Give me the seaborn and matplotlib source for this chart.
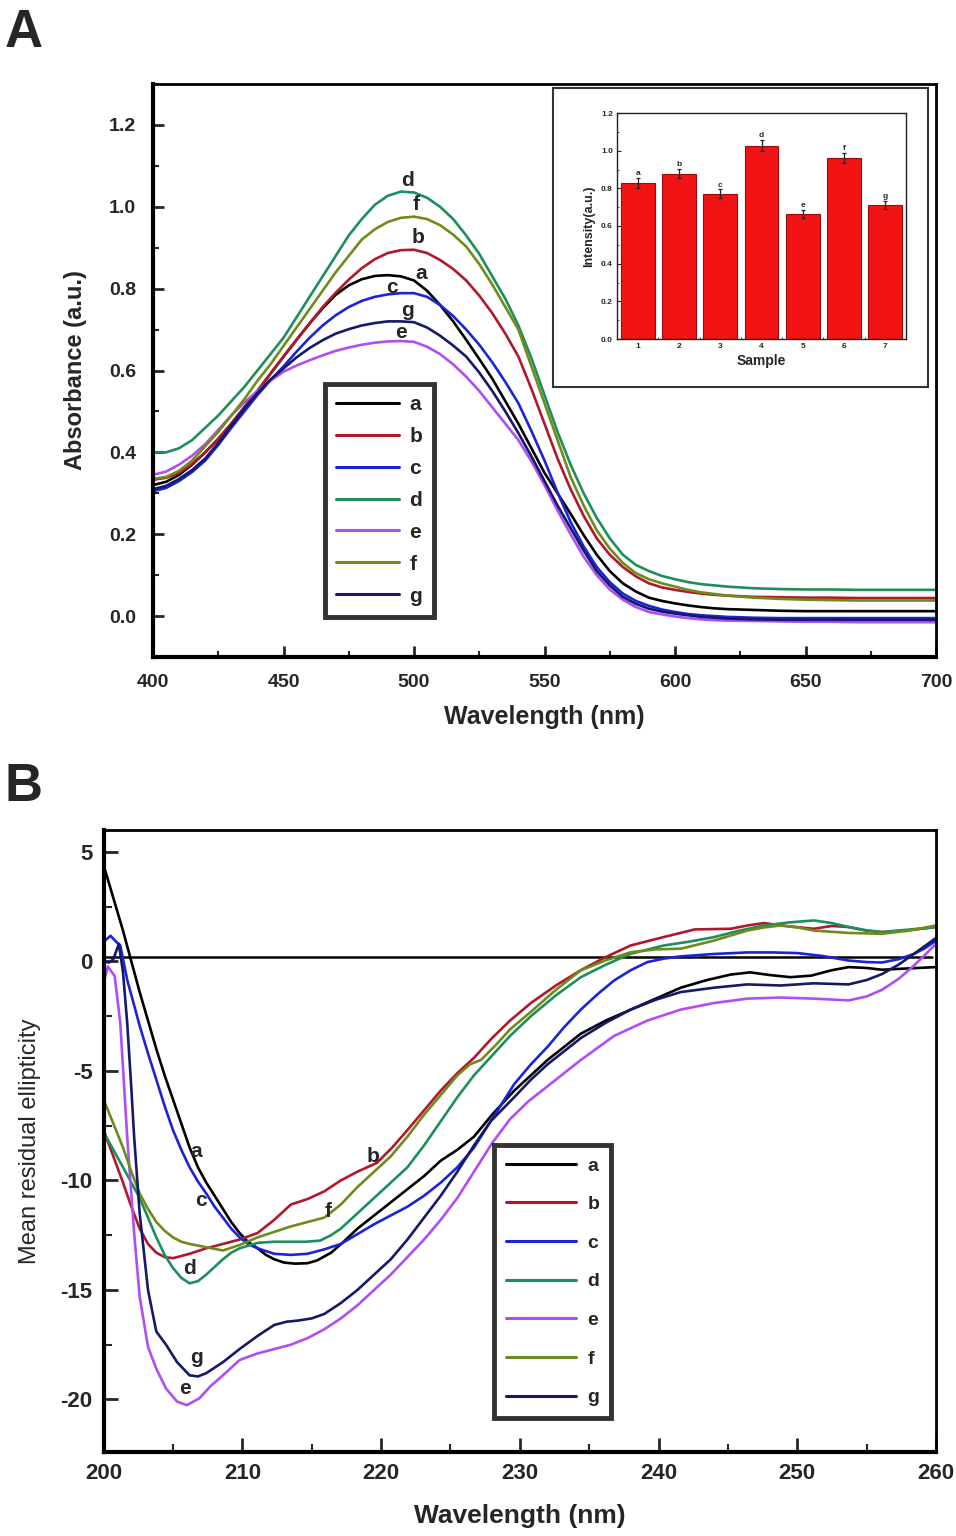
import numpy as np
import pandas as pd
import seaborn as sns
import matplotlib.pyplot as plt
from matplotlib.patches import Rectangle
from matplotlib.ticker import MultipleLocator


# ---------- panel A: absorbance spectra ----------
wl_a = [400, 405, 410, 415, 420, 425, 430, 435, 440, 445, 450, 455, 460, 465, 470, 475, 480, 485, 490, 495,
        500, 505, 510, 515, 520, 525, 530, 535, 540, 545, 550, 555, 560, 565, 570, 575, 580, 585, 590, 595,
        600, 605, 610, 615, 620, 630, 640, 650, 660, 670, 680, 690, 700]

abs_a = [0.32, 0.328, 0.345, 0.37, 0.40, 0.433, 0.47, 0.51, 0.55, 0.592, 0.634, 0.675, 0.715, 0.752, 0.785,
         0.808, 0.823, 0.831, 0.833, 0.83, 0.82, 0.795, 0.76, 0.72, 0.675, 0.628, 0.58, 0.525, 0.47, 0.41,
         0.35, 0.30, 0.25, 0.198, 0.15, 0.11, 0.08, 0.06, 0.045, 0.037, 0.031, 0.026, 0.022, 0.019, 0.017,
         0.015, 0.013, 0.012, 0.012, 0.012, 0.012, 0.012, 0.012]
abs_b = [0.333, 0.338, 0.35, 0.372, 0.40, 0.433, 0.47, 0.51, 0.55, 0.592, 0.634, 0.675, 0.715, 0.755, 0.79,
         0.822, 0.85, 0.872, 0.887, 0.894, 0.895, 0.887, 0.87, 0.848, 0.82, 0.783, 0.74, 0.69, 0.634, 0.555,
         0.47, 0.385, 0.31, 0.245, 0.19, 0.15, 0.12, 0.097, 0.08, 0.07, 0.064, 0.059, 0.055, 0.052, 0.05,
         0.047, 0.046, 0.045, 0.045, 0.044, 0.044, 0.044, 0.044]
abs_c = [0.305, 0.313, 0.33, 0.352, 0.38, 0.418, 0.46, 0.50, 0.54, 0.576, 0.61, 0.646, 0.68, 0.71, 0.735,
         0.755, 0.77, 0.78, 0.786, 0.789, 0.789, 0.78, 0.76, 0.733, 0.70, 0.663, 0.62, 0.572, 0.52, 0.452,
         0.38, 0.302, 0.23, 0.17, 0.12, 0.083, 0.055, 0.037, 0.025, 0.016, 0.01, 0.005, 0.002, 0.0, -0.002,
         -0.004, -0.005, -0.005, -0.005, -0.005, -0.005, -0.005, -0.005]
abs_d = [0.40, 0.40, 0.41, 0.43, 0.46, 0.49, 0.525, 0.56, 0.60, 0.64, 0.68, 0.73, 0.78, 0.83, 0.88,
         0.93, 0.97, 1.005, 1.027, 1.037, 1.035, 1.022, 1.0, 0.97, 0.93, 0.885, 0.83, 0.775, 0.71, 0.63,
         0.54, 0.45, 0.37, 0.30, 0.24, 0.19, 0.15, 0.125, 0.11, 0.098, 0.09, 0.083, 0.078, 0.075, 0.072,
         0.068, 0.066, 0.065, 0.065, 0.064, 0.064, 0.064, 0.064]
abs_e = [0.345, 0.353, 0.37, 0.392, 0.42, 0.455, 0.49, 0.522, 0.55, 0.575, 0.597, 0.612, 0.625, 0.637, 0.648,
         0.656, 0.663, 0.668, 0.671, 0.672, 0.67, 0.658, 0.64, 0.615, 0.585, 0.55, 0.51, 0.47, 0.43, 0.378,
         0.32, 0.258, 0.20, 0.145, 0.10, 0.065, 0.04, 0.022, 0.01, 0.004, -0.001, -0.005, -0.008, -0.01, -0.011,
         -0.012, -0.013, -0.014, -0.014, -0.015, -0.015, -0.015, -0.015]
abs_f = [0.335, 0.34, 0.355, 0.38, 0.415, 0.45, 0.49, 0.53, 0.575, 0.615, 0.66, 0.705, 0.75, 0.795, 0.84,
         0.88, 0.92, 0.945, 0.963, 0.973, 0.976, 0.97, 0.955, 0.932, 0.903, 0.86, 0.81, 0.755, 0.70, 0.61,
         0.52, 0.43, 0.34, 0.27, 0.21, 0.165, 0.13, 0.105, 0.09, 0.08, 0.072, 0.064, 0.058, 0.054, 0.05,
         0.045, 0.042, 0.04, 0.039, 0.038, 0.038, 0.038, 0.038]
abs_g = [0.31, 0.318, 0.335, 0.357, 0.385, 0.423, 0.465, 0.507, 0.545, 0.578, 0.605, 0.632, 0.655, 0.674, 0.69,
         0.701, 0.71, 0.716, 0.72, 0.72, 0.718, 0.705, 0.685, 0.661, 0.634, 0.595, 0.55, 0.50, 0.447, 0.39,
         0.33, 0.27, 0.215, 0.16, 0.11, 0.075, 0.047, 0.03, 0.018, 0.011, 0.006, 0.002, -0.002, -0.004, -0.006,
         -0.008, -0.009, -0.009, -0.009, -0.009, -0.009, -0.009, -0.009]

# curve letters on panel A (wavelength, absorbance)
lab_a_pos = {"d": (497.7, 1.064), "f": (500.8, 1.005), "b": (501.5, 0.924), "a": (502.7, 0.836),
             "c": (491.6, 0.802), "g": (497.7, 0.746), "e": (495.0, 0.692)}

# inset bar chart
samples = ["1", "2", "3", "4", "5", "6", "7"]
intensity = [0.83, 0.878, 0.772, 1.027, 0.664, 0.96, 0.713]
intensity_err = [0.027, 0.025, 0.022, 0.028, 0.02, 0.027, 0.022]
bar_letters = ["a", "b", "c", "d", "e", "f", "g"]

# ---------- panel B: CD spectra ----------
cd_wl_a = [200.0, 200.7, 201.4, 202.0, 202.6, 203.2, 203.8, 204.4, 205.0, 205.6, 206.2, 206.8, 207.4, 208.0,
           208.6, 209.2, 209.8, 210.4, 211.1, 211.7, 212.3, 213.0, 213.8, 214.7, 215.4, 216.4, 217.3, 218.3,
           219.5, 220.7, 221.9, 223.1, 224.3, 225.5, 226.7, 228.0, 229.6, 230.8, 232.0, 233.2, 234.4, 236.2,
           238.0, 239.8, 241.6, 243.5, 245.2, 246.6, 248.0, 249.5, 251.0, 252.5, 253.7, 255.0, 256.1, 258.0,
           260.0]
cd_a = [4.4, 2.9, 1.4, 0.0, -1.4, -2.7, -4.0, -5.2, -6.3, -7.4, -8.5, -9.4, -10.1, -10.7,
        -11.3, -11.9, -12.4, -12.8, -13.1, -13.4, -13.6, -13.75, -13.8, -13.78, -13.65, -13.3, -12.8, -12.2,
        -11.6, -11.0, -10.4, -9.8, -9.1, -8.6, -8.0, -7.0, -5.9, -5.2, -4.5, -3.9, -3.3, -2.7,
        -2.2, -1.7, -1.2, -0.85, -0.6, -0.5, -0.62, -0.72, -0.65, -0.4, -0.26, -0.3, -0.38, -0.32,
        -0.26]

cd_wl_b = [200.0, 200.7, 201.4, 202.0, 202.6, 203.2, 203.8, 204.4, 205.0, 205.6, 206.2, 207.4, 208.6, 209.8,
           211.1, 212.3, 213.5, 214.7, 215.9, 217.1, 218.3, 219.7, 220.8, 221.9, 223.1, 224.3, 225.5, 226.7,
           228.0, 229.3, 230.8, 232.6, 234.4, 236.2, 238.0, 240.3, 242.6, 245.2, 246.5, 247.6, 249.4, 251.2,
           252.5, 253.7, 255.0, 256.1, 258.0, 260.0]
cd_b = [-7.7, -8.9, -10.1, -11.2, -12.2, -12.9, -13.3, -13.5, -13.55, -13.45, -13.35, -13.1, -12.9, -12.7,
        -12.4, -11.8, -11.1, -10.85, -10.5, -10.0, -9.6, -9.2, -8.5, -7.7, -6.8, -5.9, -5.1, -4.4,
        -3.5, -2.7, -1.9, -1.1, -0.4, 0.2, 0.73, 1.1, 1.46, 1.49, 1.65, 1.75, 1.6, 1.49,
        1.62, 1.57, 1.4, 1.34, 1.42, 1.57]

cd_wl_c = [200.0, 200.5, 200.9, 201.2, 201.7, 202.2, 202.6, 203.2, 203.8, 204.4, 205.0, 205.6, 206.2, 206.8,
           207.4, 208.0, 208.6, 209.2, 209.8, 210.4, 211.1, 212.3, 213.5, 214.7, 215.9, 217.1, 218.3, 219.5,
           220.7, 221.9, 223.1, 224.3, 225.5, 226.7, 228.0, 229.6, 230.8, 232.0, 233.2, 234.4, 235.6, 236.8,
           238.0, 239.2, 240.4, 241.6, 244.0, 246.4, 248.2, 250.0, 251.8, 253.7, 255.0, 256.1, 257.3, 258.4,
           259.2, 260.0]
cd_c = [0.9, 1.17, 0.9, 0.73, -0.84, -2.0, -2.94, -4.2, -5.4, -6.6, -7.7, -8.6, -9.4, -10.05,
        -10.6, -11.2, -11.7, -12.2, -12.6, -12.9, -13.1, -13.35, -13.4, -13.35, -13.15, -12.9, -12.45, -12.0,
        -11.6, -11.2, -10.7, -10.1, -9.4, -8.5, -7.2, -5.6, -4.7, -3.9, -3.0, -2.2, -1.5, -0.87,
        -0.4, -0.03, 0.13, 0.23, 0.34, 0.41, 0.41, 0.38, 0.25, 0.04, -0.03, -0.05, 0.1, 0.34,
        0.6, 0.95]

cd_wl_d = [200.0, 200.7, 201.4, 202.0, 202.6, 203.2, 203.8, 204.4, 205.0, 205.6, 206.2, 206.8, 207.4, 208.0,
           208.6, 209.2, 209.8, 211.1, 212.3, 213.5, 214.6, 215.6, 216.4, 217.1, 218.3, 219.5, 220.7, 221.9,
           223.1, 224.3, 225.5, 226.7, 228.0, 229.3, 230.8, 232.6, 234.4, 236.2, 238.0, 240.4, 242.2, 244.0,
           245.8, 247.6, 249.4, 251.2, 252.5, 253.7, 255.0, 256.1, 258.0, 260.0]
cd_d = [-7.8, -8.6, -9.4, -10.1, -10.8, -11.7, -12.6, -13.4, -14.0, -14.45, -14.7, -14.6, -14.3, -13.95,
        -13.6, -13.3, -13.1, -12.85, -12.8, -12.8, -12.8, -12.75, -12.5, -12.2, -11.5, -10.8, -10.1, -9.4,
        -8.4, -7.3, -6.2, -5.2, -4.3, -3.4, -2.5, -1.55, -0.72, -0.15, 0.35, 0.73, 0.9, 1.11,
        1.4, 1.64, 1.78, 1.87, 1.75, 1.57, 1.42, 1.34, 1.45, 1.57]

cd_wl_e = [200.0, 200.3, 200.8, 201.2, 201.7, 202.2, 202.6, 203.2, 203.8, 204.5, 205.3, 206.0, 206.9, 207.7,
           208.6, 209.8, 211.1, 212.3, 213.5, 214.7, 215.9, 217.1, 218.3, 219.5, 220.7, 221.9, 223.1, 224.3,
           225.5, 226.7, 228.0, 229.3, 230.6, 232.0, 234.4, 236.8, 239.2, 241.6, 244.0, 246.4, 248.8, 251.2,
           253.7, 255.0, 256.1, 257.3, 258.4, 259.2, 260.0]
cd_e = [-1.0, -0.23, -0.67, -2.8, -8.0, -12.4, -15.3, -17.6, -18.6, -19.5, -20.1, -20.26, -19.95, -19.4,
        -18.9, -18.2, -17.9, -17.7, -17.5, -17.2, -16.8, -16.3, -15.7, -15.0, -14.3, -13.5, -12.7, -11.8,
        -10.8, -9.6, -8.3, -7.2, -6.4, -5.7, -4.5, -3.4, -2.7, -2.2, -1.9, -1.7, -1.65, -1.7,
        -1.78, -1.6, -1.3, -0.8, -0.2, 0.3, 0.8]

cd_wl_f = [200.0, 200.7, 201.4, 202.0, 202.6, 203.2, 203.8, 204.4, 205.0, 205.6, 206.2, 207.4, 208.6, 209.8,
           211.1, 212.3, 213.5, 214.7, 215.9, 217.1, 218.3, 219.5, 220.7, 221.9, 223.1, 224.3, 225.5, 226.4,
           227.2, 228.3, 229.3, 230.8, 232.6, 234.4, 236.2, 238.0, 239.8, 241.6, 244.0, 246.4, 247.6, 248.8,
           250.0, 251.2, 253.7, 256.1, 258.0, 260.0]
cd_f = [-6.3, -7.4, -8.5, -9.6, -10.6, -11.3, -11.9, -12.3, -12.6, -12.8, -12.9, -13.05, -13.2, -12.95,
        -12.6, -12.35, -12.1, -11.9, -11.7, -11.1, -10.3, -9.6, -8.9, -8.0, -7.0, -6.1, -5.2, -4.7,
        -4.5, -3.8, -3.1, -2.3, -1.3, -0.41, 0.05, 0.42, 0.55, 0.58, 0.95, 1.41, 1.55, 1.64,
        1.55, 1.41, 1.3, 1.26, 1.4, 1.64]

cd_wl_g = [200.0, 200.4, 200.7, 201.1, 201.4, 201.7, 202.0, 202.2, 202.6, 203.2, 203.8, 204.5, 205.3, 206.2,
           206.8, 207.4, 208.6, 209.8, 211.1, 212.3, 213.2, 214.0, 215.0, 215.9, 217.1, 218.3, 219.5, 220.7,
           221.9, 223.1, 224.3, 225.5, 226.7, 227.9, 229.6, 230.8, 232.0, 234.4, 236.2, 238.0, 239.8, 241.6,
           244.0, 246.4, 248.8, 251.2, 253.7, 255.0, 256.1, 257.3, 258.4, 259.3, 260.0]
cd_g = [0.0, -0.05, 0.1, 0.8, -0.5, -2.8, -5.8, -8.0, -11.5, -15.0, -16.9, -17.5, -18.3, -18.9,
        -18.95, -18.8, -18.3, -17.7, -17.1, -16.6, -16.45, -16.4, -16.3, -16.1, -15.6, -15.0, -14.3, -13.6,
        -12.7, -11.7, -10.7, -9.6, -8.4, -7.3, -6.2, -5.4, -4.7, -3.5, -2.8, -2.2, -1.75, -1.4,
        -1.2, -1.05, -1.1, -1.0, -1.05, -0.85, -0.58, -0.15, 0.34, 0.75, 1.07]

cd_baseline = 0.2

lab_b_pos = {"a": (206.7, -8.7), "c": (207.0, -10.9), "d": (206.2, -14.0), "g": (206.7, -18.1),
             "e": (205.9, -19.5), "b": (219.4, -8.9), "f": (216.2, -11.4)}

colors = {"a": "#000000", "b": "#b0182c", "c": "#1c24d8", "d": "#1e8e5c",
          "e": "#b04ef2", "f": "#6e8c1c", "g": "#16186a"}
letters = ["a", "b", "c", "d", "e", "f", "g"]

sns.set_style("ticks")
plt.rcParams['font.family'] = ['Liberation Sans', 'DejaVu Sans']
plt.rcParams['font.weight'] = 'bold'
plt.rcParams['axes.labelweight'] = 'bold'
plt.rcParams['axes.unicode_minus'] = False

fig = plt.figure(figsize=(9.56, 15.36), dpi=100)


def style_axes(ax, major_len=8, minor_len=4):
    ax.tick_params(which='major', direction='in', length=major_len, width=2, top=False, right=False)
    ax.tick_params(which='minor', direction='in', length=minor_len, width=1.5, top=False, right=False)
    ax.spines['left'].set_linewidth(3)
    ax.spines['bottom'].set_linewidth(3)
    ax.spines['top'].set_linewidth(2)
    ax.spines['right'].set_linewidth(2)
    for s in ax.spines.values():
        s.set_color('black')


############
# A) absorbance
############
axA = fig.add_axes([153 / 956, 1 - 657 / 1536, (936 - 153) / 956, (657 - 84) / 1536])
abs_all = {"a": abs_a, "b": abs_b, "c": abs_c, "d": abs_d, "e": abs_e, "f": abs_f, "g": abs_g}
dfA = pd.concat([pd.DataFrame({"wl": wl_a, "absorb": abs_all[k], "sample": k}) for k in letters])
sns.lineplot(data=dfA, x="wl", y="absorb", hue="sample", palette=colors, linewidth=1.9, ax=axA)
axA.set_xlim(400, 700)
axA.set_ylim(-0.1, 1.3)
axA.xaxis.set_major_locator(MultipleLocator(50))
axA.xaxis.set_minor_locator(MultipleLocator(25))
axA.yaxis.set_minor_locator(MultipleLocator(0.1))
axA.set_yticks([0.0, 0.2, 0.4, 0.6, 0.8, 1.0, 1.2])
axA.set_yticklabels(["0.0", "0.2", "0.4", "0.6", "0.8", "1.0", "1.2"])
style_axes(axA)
axA.tick_params(labelsize=14, pad=12)
axA.set_xlabel("Wavelength (nm)", fontsize=18, labelpad=10)
axA.set_ylabel("Absorbance (a.u.)", fontsize=17, labelpad=16)
for k, (x, y) in lab_a_pos.items():
    axA.text(x, y, k, fontsize=15, ha='center', va='center')

h, l = axA.get_legend_handles_labels()
legA = axA.legend(h, l, loc='lower left', bbox_to_anchor=(0.2197, 0.0698), frameon=True, fancybox=False,
                  prop={'weight': 'bold', 'size': 15}, handlelength=3.0, handletextpad=0.5,
                  labelspacing=0.62, borderpad=0.55, borderaxespad=0)
legA.get_frame().set_edgecolor('black')
legA.get_frame().set_linewidth(3.5)
for line in legA.get_lines():
    line.set_linewidth(2.2)

# inset
fig.patches.append(Rectangle((553 / 956, 1 - 387 / 1536), (928 - 553) / 956, (387 - 88) / 1536,
                             transform=fig.transFigure, fill=False, edgecolor='#333333', linewidth=1.5))
axI = fig.add_axes([617 / 956, 1 - 339 / 1536, (906 - 617) / 956, (339 - 113) / 1536])
dfI = pd.DataFrame({"sample": samples, "intensity": intensity})
sns.barplot(data=dfI, x="sample", y="intensity", color="#f21414", edgecolor="#9a0c0c", linewidth=0.8,
            width=0.82, saturation=1, errorbar=None, ax=axI)
axI.errorbar(x=np.arange(len(samples)), y=intensity, yerr=intensity_err, fmt='none', ecolor='#222222',
             elinewidth=0.9, capsize=1.5, capthick=0.9)
for i, (v, e, t) in enumerate(zip(intensity, intensity_err, bar_letters)):
    axI.text(i, v + e + 0.005, t, fontsize=6, ha='center', va='bottom')
axI.set_xlim(-0.5, 6.5)
axI.set_ylim(0, 1.2)
axI.yaxis.set_minor_locator(MultipleLocator(0.1))
axI.set_xticks(np.arange(-0.5, 7, 1), minor=True)
axI.set_yticks([0.0, 0.2, 0.4, 0.6, 0.8, 1.0, 1.2])
axI.set_yticklabels(["0.0", "0.2", "0.4", "0.6", "0.8", "1.0", "1.2"])
axI.tick_params(which='major', direction='in', length=3, width=0.8, labelsize=6, top=False, right=False, pad=3)
axI.tick_params(which='minor', direction='in', length=1.5, width=0.6, top=False, right=False)
for s in axI.spines.values():
    s.set_linewidth(1)
    s.set_color('#222222')
axI.set_xlabel("Sample", fontsize=10, labelpad=3)
axI.set_ylabel("Intensity(a.u.)", fontsize=9, labelpad=4)

############
# B) CD
############
axB = fig.add_axes([103.6 / 956, 1 - 1452 / 1536, (936 - 103.6) / 956, (1452 - 830) / 1536])
cd_all = {"a": (cd_wl_a, cd_a), "b": (cd_wl_b, cd_b), "c": (cd_wl_c, cd_c), "d": (cd_wl_d, cd_d),
          "e": (cd_wl_e, cd_e), "f": (cd_wl_f, cd_f), "g": (cd_wl_g, cd_g)}
dfB = pd.concat([pd.DataFrame({"wl": cd_all[k][0], "mre": cd_all[k][1], "sample": k}) for k in letters])
axB.axhline(cd_baseline, color='black', linewidth=1.8, xmax=0.995)
sns.lineplot(data=dfB, x="wl", y="mre", hue="sample", palette=colors, linewidth=1.9, ax=axB)
axB.set_xlim(200, 260)
axB.set_ylim(-22.4, 6.0)
axB.xaxis.set_major_locator(MultipleLocator(10))
axB.xaxis.set_minor_locator(MultipleLocator(5))
axB.yaxis.set_major_locator(MultipleLocator(5))
axB.yaxis.set_minor_locator(MultipleLocator(2.5))
style_axes(axB, major_len=10, minor_len=6)
axB.tick_params(labelsize=16, pad=8)
axB.set_xlabel("Wavelength (nm)", fontsize=19, labelpad=14)
axB.set_ylabel("Mean residual ellipticity", fontsize=17, fontweight='normal', labelpad=14)
for k, (x, y) in lab_b_pos.items():
    axB.text(x, y, k, fontsize=15, ha='center', va='center')

h, l = axB.get_legend_handles_labels()
legB = axB.legend(h, l, loc='lower left', bbox_to_anchor=(0.469, 0.0547), frameon=True, fancybox=False,
                  prop={'weight': 'bold', 'size': 14}, handlelength=3.6, handletextpad=0.6,
                  labelspacing=1.08, borderpad=0.6, borderaxespad=0)
legB.get_frame().set_edgecolor('black')
legB.get_frame().set_linewidth(3.5)
for line in legB.get_lines():
    line.set_linewidth(2.2)

fig.text(5 / 956, 1 - 8 / 1536, "A", fontsize=38, ha='left', va='top')
fig.text(5 / 956, 1 - 762 / 1536, "B", fontsize=38, ha='left', va='top')

fig.savefig("out.png", dpi=100)
